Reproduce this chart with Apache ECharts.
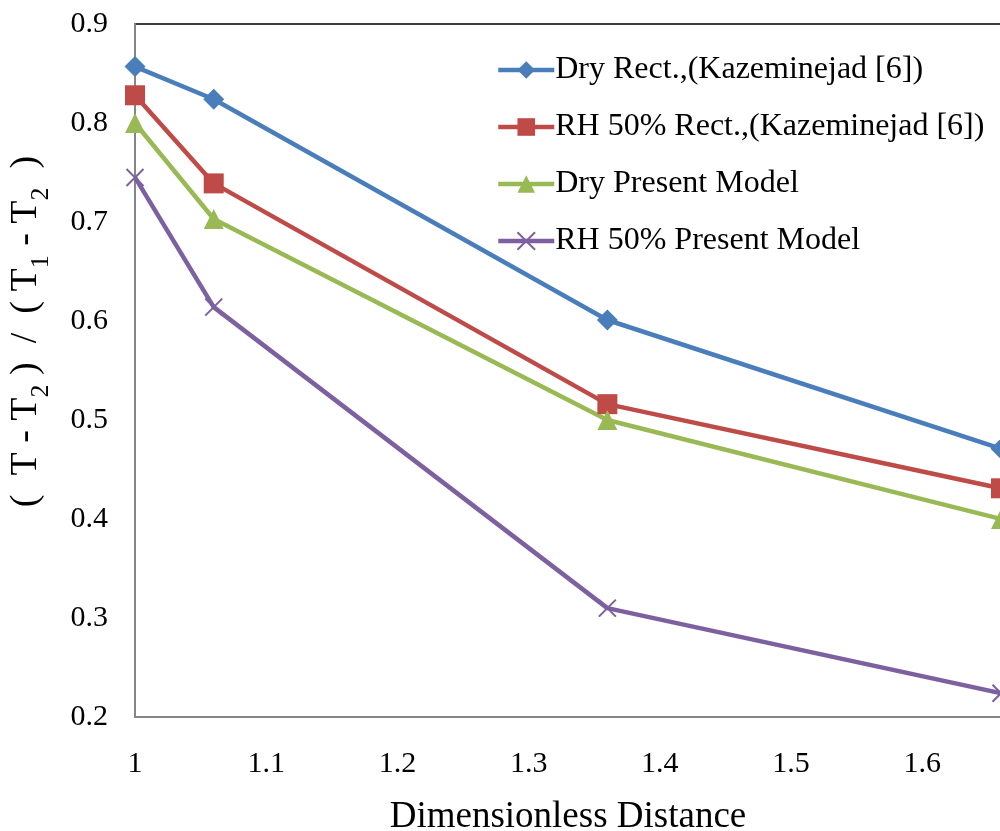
<!DOCTYPE html>
<html>
<head>
<meta charset="utf-8">
<script src="https://cdn.jsdelivr.net/npm/echarts@6/dist/echarts.min.js"></script>
<style>
  html, body { margin: 0; padding: 0; background: #fff; }
  #chart { width: 1000px; height: 831px; }
</style>
</head>
<body>
<div id="chart"></div>
<script>
// data
var distance = [1, 1.06, 1.36, 1.66];
var dryRect = [0.857, 0.824, 0.601, 0.471];
var rhRect = [0.828, 0.739, 0.516, 0.431];
var dryModel = [0.800, 0.703, 0.500, 0.400];
var rhModel = [0.745, 0.614, 0.310, 0.224];

var seriesNames = [
    "Dry Rect.,(Kazeminejad [6])",
    "RH 50% Rect.,(Kazeminejad [6])",
    "Dry Present Model",
    "RH 50% Present Model"
];

function pairs(ys) {
    return distance.map(function (x, i) { return [x, ys[i]]; });
}

var font = "Liberation Serif";
var crossPath = "path://M0,0L10,10M10,0L0,10";

function makeSeries(name, ys, color, symbol, size, extra) {
    var s = {
        name: name,
        type: "line",
        data: pairs(ys),
        symbol: symbol,
        symbolSize: size,
        clip: false,
        lineStyle: { color: color, width: 4.5 },
        itemStyle: { color: color }
    };
    if (extra) s.itemStyle = extra;
    return s;
}

var chart = echarts.init(document.getElementById("chart"));
chart.setOption({
    animation: false,
    backgroundColor: "#fff",
    grid: {
        left: 135, top: 24, right: -1, bottom: 114,
        outerBoundsMode: "none",
        containLabel: false,
        show: true, borderColor: "#000", borderWidth: 1.5
    },
    legend: {
        orient: "vertical",
        left: 491, top: 49,
        itemWidth: 56, itemHeight: 22,
        itemGap: 25,
        lineStyle: { width: 4.5 },
        textStyle: { fontFamily: font, fontSize: 32, color: "#000", padding: [0, 0, 0, -4] },
        data: seriesNames
    },
    xAxis: {
        type: "value",
        min: 1, max: 1.66, interval: 0.1,
        splitLine: { show: false },
        axisTick: { show: false },
        axisLine: { lineStyle: { color: "#868686", width: 2 } },
        axisLabel: {
            color: "#000", fontFamily: font, fontSize: 30, margin: 32,
            showMaxLabel: false,
            formatter: function (v) { return String(Math.round(v * 10) / 10); }
        },
        name: "Dimensionless Distance",
        nameLocation: "middle",
        nameGap: 82,
        nameTextStyle: { color: "#000", fontFamily: font, fontSize: 37 }
    },
    yAxis: {
        type: "value",
        min: 0.2, max: 0.9, interval: 0.1,
        splitLine: { show: false },
        axisTick: { show: false },
        axisLine: { show: true, lineStyle: { color: "#868686", width: 2 } },
        axisLabel: {
            color: "#000", fontFamily: font, fontSize: 30, margin: 27,
            formatter: function (v) { return (Math.round(v * 10) / 10).toFixed(1); }
        },
        name: "{m|(  T - T}{s|2}{m| )  /  ( T}{s|1}{m| - T}{s|2}{m|  )}",
        nameLocation: "middle",
        nameRotate: 90,
        nameGap: 90,
        nameTextStyle: {
            color: "#000", fontFamily: font,
            padding: [0, 0, 0, 78],
            rich: {
                m: { fontFamily: font, fontSize: 38, color: "#000", lineHeight: 42, verticalAlign: "bottom" },
                s: { fontFamily: font, fontSize: 26, color: "#000", lineHeight: 26, verticalAlign: "bottom", padding: [0, 0, -9, 0] }
            }
        }
    },
    series: [
        makeSeries(seriesNames[0], dryRect, "#4a7ebb", "diamond", 21),
        makeSeries(seriesNames[1], rhRect, "#be4b48", "rect", 20),
        makeSeries(seriesNames[2], dryModel, "#98b954", "triangle", 20),
        makeSeries(seriesNames[3], rhModel, "#7d60a0", crossPath, 17,
            { color: "#7d60a0", borderColor: "#7d60a0", borderWidth: 2 })
    ]
});
</script>
</body>
</html>
